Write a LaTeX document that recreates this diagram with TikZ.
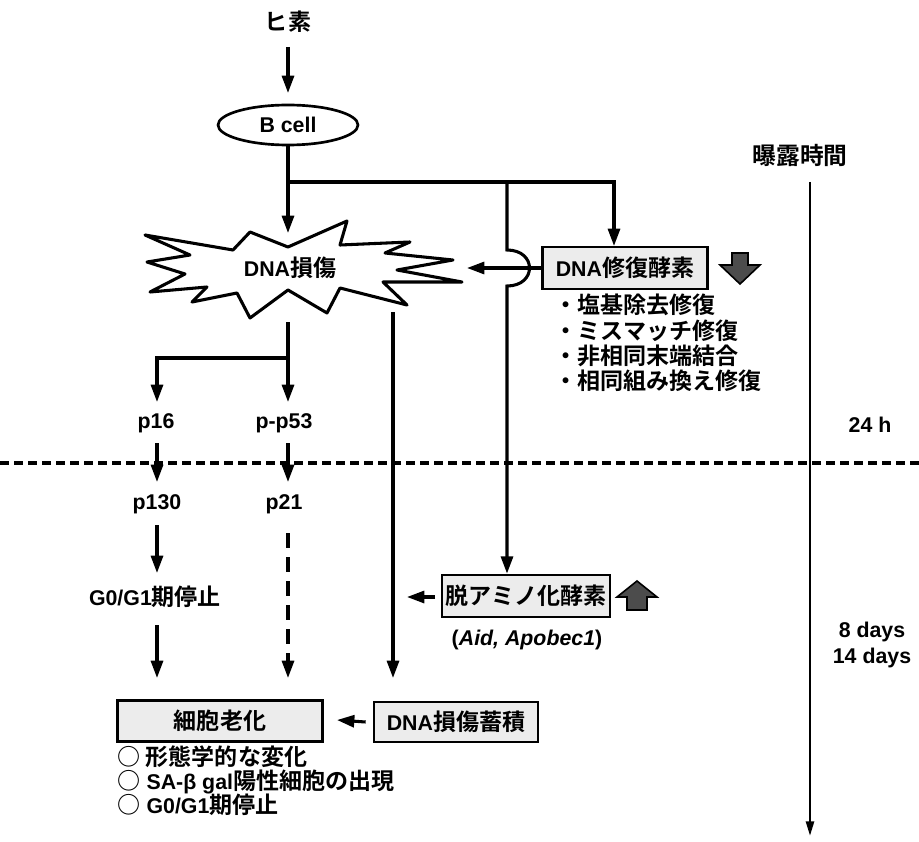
\documentclass[tikz,border=0pt]{standalone}
\usepackage{fontspec}
\setmainfont{Liberation Sans}[BoldFont={Liberation Sans Bold}]
\newfontfamily\jp{Noto Sans CJK JP}[BoldFont={Noto Sans CJK JP Bold},Scale=1.08]
\newcommand\jt[1]{{\jp\bfseries #1}}
\usetikzlibrary{arrows.meta,shapes.geometric}
\tikzset{
  txt/.style={font=\bfseries\fontsize{16}{19}\selectfont, inner sep=1pt},
  ln/.style={line width=2.3pt},
  arr/.style={line width=2.3pt, -{Triangle[length=13pt,width=9pt]}},
  grbox/.style={txt, draw, line width=2pt, fill=gray!15, inner sep=0pt},
  blk/.style={draw=black, line width=1.2pt, fill=black!70},
}
\begin{document}
\begin{tikzpicture}[x=0.75pt,y=-0.75pt]
\useasboundingbox (0,0) rectangle (919,841);
% nodes
\node[txt] (ars) at (288,22) {\jt{ヒ素}};
\node[txt, draw, ellipse, line width=2pt, minimum width=105pt, minimum height=30pt] (bcell) at (288,125) {B cell};
% starburst
\draw[line width=2.3pt, line join=round, fill=white]
 (250,232) -- (288,247) -- (347,221) -- (340,245) -- (410,242) -- (385,253) -- (453,260)
 -- (397,270) -- (462,282) -- (383,282) -- (407,305) -- (340,288) -- (327,313) -- (288,290)
 -- (250,318) -- (237,293) -- (192,302) -- (207,287) -- (150,292) -- (185,274) -- (147,262)
 -- (190,255) -- (145,235) -- (233,250) -- cycle;
\node[txt] (dna) at (290,268) {DNA\jt{損傷}};
\node[grbox, minimum width=124pt, minimum height=31.5pt] (rep) at (625,268) {DNA\jt{修復酵素}};
\node[txt, anchor=west, align=left] (replist) at (553,343) {%
 \jt{・塩基除去修復}\\[0pt] \jt{・ミスマッチ修復}\\[0pt] \jt{・非相同末端結合}\\[0pt] \jt{・相同組み換え修復}};
\node[txt] (p16) at (156,423) {p16};
\node[txt] (pp53) at (284,423) {p-p53};
\node[txt] (p130) at (157,504) {p130};
\node[txt] (p21) at (284,504) {p21};
\node[txt] (g0) at (155,597) {G0/G1\jt{期停止}};
\node[grbox, minimum width=126pt, minimum height=31.5pt] (deam) at (526,596) {\jt{脱アミノ化酵素}};
\node[txt] (aid) at (527,640) {(\textit{Aid, Apobec1})};
\node[grbox, minimum width=154pt, minimum height=31pt] (sen) at (220,721) {\jt{細胞老化}};
\node[grbox, minimum width=123pt, minimum height=30pt] (acc) at (456,722) {DNA\jt{損傷蓄積}};
\node[txt, anchor=west, align=left] (senlist) at (116,781) {%
 \jt{○ 形態学的な変化}\\[-1pt] \jt{○} SA-β gal\jt{陽性細胞の出現}\\[-1pt] \jt{○} G0/G1\jt{期停止}};
\node[txt, font=\jp\bfseries\fontsize{16.5}{20}\selectfont] (time) at (800,155) {曝露時間};
\node[txt] (h24) at (870,425) {24 h};
\node[txt, align=center] (days) at (872,645) {8 days\\14 days};
% coordinates
\coordinate (atop) at (288,47);
\coordinate (abot) at (288,93);
\coordinate (dtop) at (288,233);
\coordinate (br) at (288,182);
\coordinate (dright) at (467,268);
\coordinate (dbot) at (288,322);
\coordinate (split) at (288,358);
\coordinate (tend) at (810,836);
% connectors
\draw[arr] (atop) -- (abot);
\draw[arr] (bcell.south) -- (dtop);
\draw[arr] (br) -| (614,246);
\draw[arr] (507,182) -- (507,250) .. controls (537,250) and (537,286) .. (507,286) -- (deam.north -| 507,0);
\draw[arr] (rep.west) -- (dright);
\draw[ln] (dbot) -- (split);
\draw[arr] (split) -| (157,402);
\draw[arr] (split) -- (288,402);
\draw[arr] (157,443) -- (157,482);
\draw[arr] (288,443) -- (288,482);
\draw[arr] (157,525) -- (157,573);
\draw[arr] (157,625) -- (157,678);
\draw[line width=2.3pt, dash pattern=on 11pt off 7pt] (288,533) -- (288,660);
\draw[arr] (288,660) -- (288,678);
\draw[arr] (393,312) -- (393,678);
\draw[arr] (435,597) -- (407,597);
\draw[arr] (acc.west) ++(-7,0) -- (337,720);
\draw[line width=2.3pt, dash pattern=on 6.75pt off 3.75pt] (0,463) -- (919,463);
\draw[line width=1.9pt, -{Triangle[length=11pt,width=6pt]}] (time.south -| 810,0) ++(0,14) -- (tend);
% block arrows
\draw[blk] (732,253) -- (748,253) -- (748,265) -- (760,265) -- (740,284) -- (720,265) -- (732,265) -- cycle;
\draw[blk] (627,610) -- (647,610) -- (647,597) -- (657,597) -- (637,581) -- (617,597) -- (627,597) -- cycle;
\end{tikzpicture}
\end{document}
